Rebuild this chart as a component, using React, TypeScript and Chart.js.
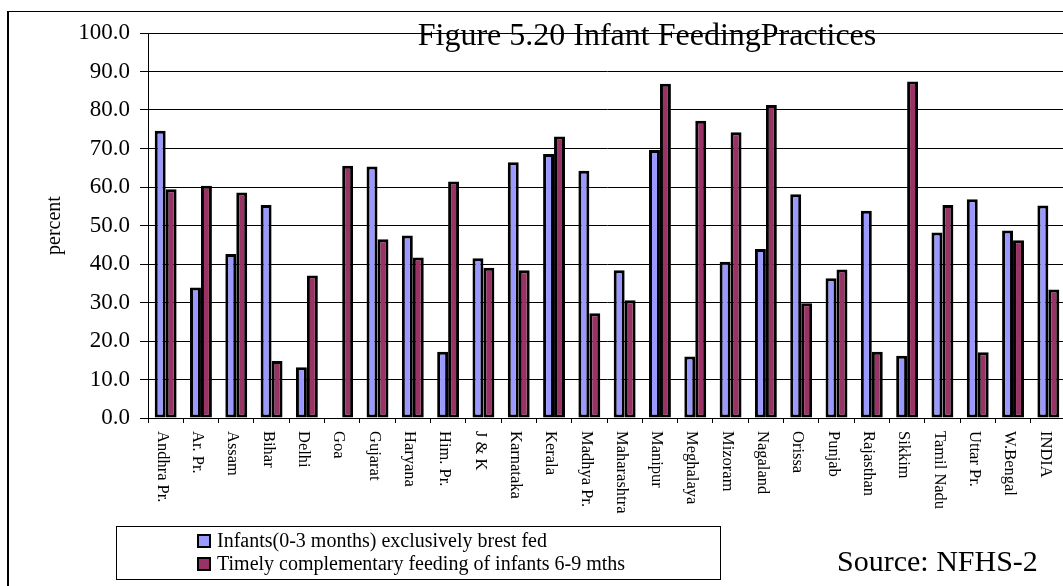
import React, { useEffect, useRef } from "react";
import { Chart, registerables } from "chart.js";

Chart.register(...registerables);

const categories = [
  "Andhra Pr.", "Ar. Pr.", "Assam", "Bihar", "Delhi", "Goa", "Gujarat", "Haryana",
  "Him. Pr.", "J & K", "Karnataka", "Kerala", "Madhya Pr.", "Maharashtra", "Manipur",
  "Meghalaya", "Mizoram", "Nagaland", "Orissa", "Punjab", "Rajasthan", "Sikkim",
  "Tamil Nadu", "Uttar Pr.", "W.Bengal", "INDIA",
];

const exclusiveBreastFed = [
  74.6, 33.9, 42.6, 55.3, 13.2, null, 65.3, 47.4, 17.2, 41.5, 66.4, 68.6, 64.2, 38.4,
  69.6, 16.0, 40.6, 43.9, 58.1, 36.3, 53.8, 16.2, 48.2, 56.8, 48.7, 55.2,
];

const timelyComplementary = [
  59.4, 60.3, 58.6, 14.8, 37.0, 65.5, 46.4, 41.7, 61.4, 39.0, 38.4, 73.1, 27.2, 30.6,
  86.8, 77.2, 74.2, 81.3, 29.8, 38.6, 17.2, 87.4, 55.3, 17.1, 46.2, 33.4,
];

const seriesLabels = [
  "Infants(0-3 months) exclusively brest fed",
  "Timely complementary feeding of infants 6-9 mths",
];
const seriesColors = ["#9999FF", "#993366"];

const chartTitle = "Figure 5.20 Infant FeedingPractices";
const yAxisTitle = "percent";
const sourceNote = "Source: NFHS-2";

const SERIF = "'Liberation Serif', 'Times New Roman', serif";

const decorPlugin = {
  id: "decor",
  beforeDraw(chart: any) {
    const ctx = chart.ctx;
    ctx.save();
    ctx.fillStyle = "#ffffff";
    ctx.fillRect(0, 0, chart.width, chart.height);
    ctx.fillStyle = "#000000";
    ctx.fillRect(7, 11, 2, chart.height);
    ctx.fillRect(7, 11, chart.width, 1);
    ctx.restore();
  },
  afterDraw(chart: any) {
    const ctx = chart.ctx;
    const xScale = chart.scales.x;
    const area = chart.chartArea;
    ctx.save();
    ctx.fillStyle = "#000000";

    // Title
    ctx.font = `32px ${SERIF}`;
    ctx.textAlign = "center";
    ctx.textBaseline = "alphabetic";
    ctx.fillText(chartTitle, 647, 45);

    // Y axis title
    ctx.save();
    ctx.translate(55, (area.top + area.bottom) / 2);
    ctx.rotate(-Math.PI / 2);
    ctx.font = `20px ${SERIF}`;
    ctx.textAlign = "center";
    ctx.textBaseline = "middle";
    ctx.fillText(yAxisTitle, 0, 0);
    ctx.restore();

    // X labels rotated clockwise
    ctx.font = `16.5px ${SERIF}`;
    categories.forEach((c, i) => {
      const x = xScale.getPixelForValue(i);
      ctx.save();
      ctx.translate(x - 3.5, area.bottom + 13);
      ctx.rotate(Math.PI / 2);
      ctx.textAlign = "left";
      ctx.textBaseline = "middle";
      ctx.fillText(c, 0, 0);
      ctx.restore();
    });

    // Legend box
    ctx.strokeStyle = "#000000";
    ctx.lineWidth = 1;
    ctx.strokeRect(116.5, 526.5, 604, 53);
    ctx.font = `20px ${SERIF}`;
    ctx.textAlign = "left";
    ctx.textBaseline = "middle";
    seriesLabels.forEach((lab, i) => {
      const yTop = 534 + i * 23;
      ctx.fillStyle = "#000000";
      ctx.fillRect(197, yTop, 14, 14);
      ctx.fillStyle = seriesColors[i];
      ctx.fillRect(199, yTop + 2, 10, 10);
      ctx.fillStyle = "#000000";
      ctx.fillText(lab, 217, yTop + 7.5);
    });

    // Source
    ctx.font = `30px ${SERIF}`;
    ctx.textAlign = "left";
    ctx.textBaseline = "alphabetic";
    ctx.fillText(sourceNote, 837, 571);

    ctx.restore();
  },
};

export default function App() {
  const canvasRef = useRef<HTMLCanvasElement | null>(null);

  useEffect(() => {
    const canvas = canvasRef.current;
    if (!canvas) return;
    const chart = new Chart(canvas, {
      type: "bar",
      data: {
        labels: categories,
        datasets: [
          {
            label: seriesLabels[0],
            data: exclusiveBreastFed,
            backgroundColor: seriesColors[0],
            borderColor: "#000000",
            borderWidth: 3,
            borderSkipped: false,
            categoryPercentage: 0.62,
            barPercentage: 1.0,
          },
          {
            label: seriesLabels[1],
            data: timelyComplementary,
            backgroundColor: seriesColors[1],
            borderColor: "#000000",
            borderWidth: 3,
            borderSkipped: false,
            categoryPercentage: 0.62,
            barPercentage: 1.0,
          },
        ],
      },
      options: {
        responsive: false,
        animation: false,
        devicePixelRatio: 1,
        layout: { padding: { left: 0, top: 33, right: 19, bottom: 0 } },
        plugins: {
          legend: { display: false },
          title: { display: false },
          tooltip: { enabled: false },
        },
        scales: {
          x: {
            ticks: { display: false },
            grid: {
              drawOnChartArea: false,
              drawTicks: true,
              tickLength: 5,
              color: "#000000",
              offset: true,
            },
            border: { color: "#000000", width: 1 },
            afterFit: (scale: any) => {
              scale.height = 168;
            },
          },
          y: {
            min: 0,
            max: 100,
            ticks: {
              stepSize: 10,
              color: "#000000",
              font: { family: SERIF, size: 23 },
              padding: 10,
              callback: (v: any) => Number(v).toFixed(1),
            },
            grid: { color: "#000000", tickLength: 8, lineWidth: 1 },
            border: { color: "#000000", width: 1 },
            afterFit: (scale: any) => {
              scale.width = 148;
            },
          },
        },
      },
      plugins: [decorPlugin],
    });
    return () => chart.destroy();
  }, []);

  return (
    <div
      style={{
        position: "fixed",
        left: 0,
        top: 0,
        width: 1063,
        height: 586,
        overflow: "hidden",
        background: "#ffffff",
      }}
    >
      <canvas
        ref={canvasRef}
        width={1085}
        height={586}
        style={{ display: "block", width: 1085, height: 586 }}
      />
    </div>
  );
}
